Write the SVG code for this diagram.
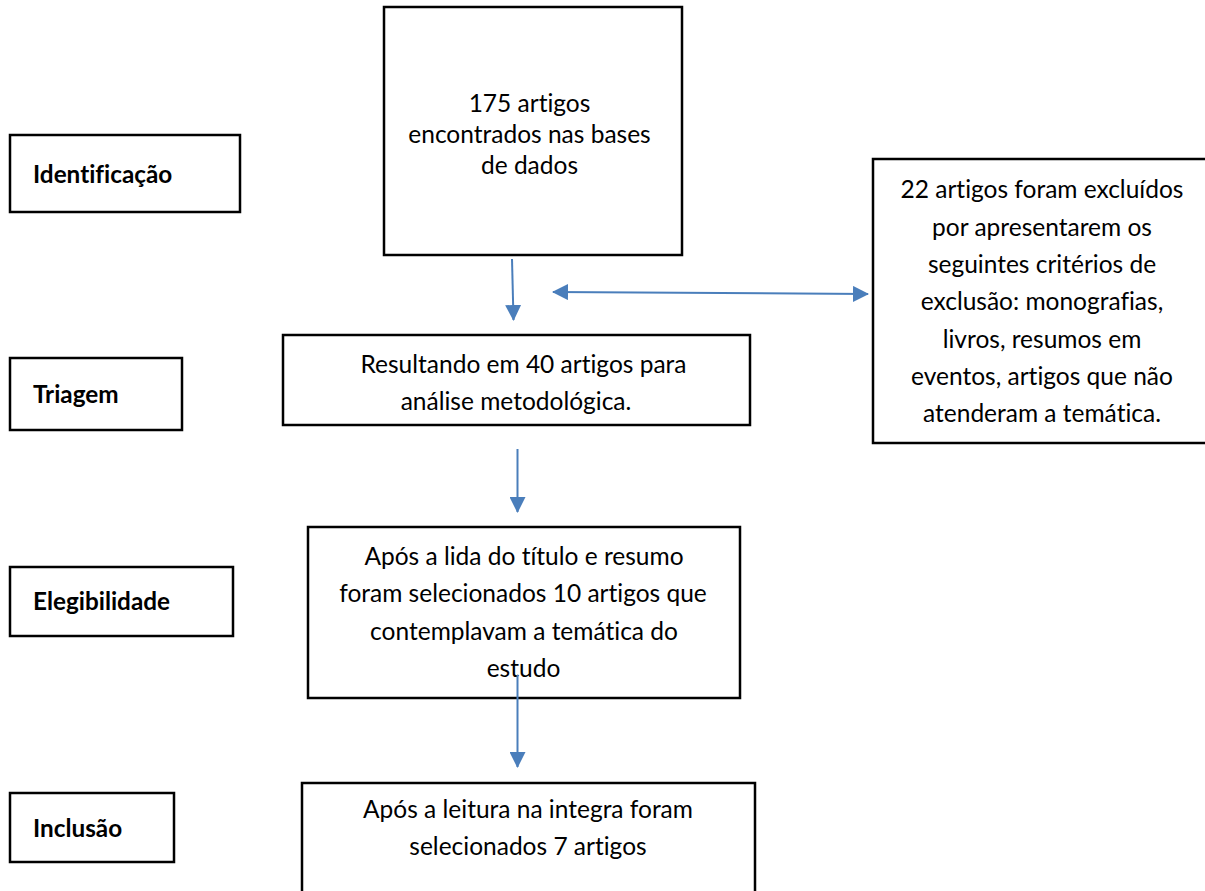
<svg xmlns="http://www.w3.org/2000/svg" width="1205" height="891" viewBox="0 0 1205 891">
<defs>
<style>
.box{fill:#fff;stroke:#000;stroke-width:2.5}
.t{font-family:Lato,"Liberation Sans",sans-serif;font-size:24.5px;fill:#000;text-anchor:middle;font-variant-ligatures:none}
.lbl{font-family:Lato,"Liberation Sans",sans-serif;font-size:24.3px;font-weight:bold;fill:#000;font-variant-ligatures:none}
.con{stroke:#4A7EBB;stroke-width:2;fill:none}
</style>
<marker id="ah" markerUnits="userSpaceOnUse" markerWidth="16" markerHeight="16" viewBox="0 0 16 16" refX="15" refY="8" orient="auto-start-reverse">
<path d="M0,0 L16,8 L0,16 Z" fill="#4A7EBB"/>
</marker>
</defs>
<rect width="1205" height="891" fill="#fff"/>
<g id="lbl-identificacao"><rect class="box" x="10" y="135" width="230" height="77"/><text class="lbl" x="33" y="183">Identificação</text></g>
<g id="lbl-triagem"><rect class="box" x="10" y="358" width="172" height="72"/><text class="lbl" x="33" y="403">Triagem</text></g>
<g id="lbl-elegibilidade"><rect class="box" x="10" y="567" width="223" height="69"/><text class="lbl" x="33" y="610">Elegibilidade</text></g>
<g id="lbl-inclusao"><rect class="box" x="10" y="793" width="164" height="69"/><text class="lbl" x="33" y="837">Inclusão</text></g>
<g id="n-encontrados"><rect class="box" x="384" y="7" width="298" height="248"/>
<text class="t" x="529.5" y="112">175 artigos</text>
<text class="t" x="529.5" y="143">encontrados nas bases</text>
<text class="t" x="529.5" y="174">de dados</text></g>
<g id="n-excluidos"><rect class="box" x="873" y="159" width="340" height="284"/>
<text class="t" x="1042" y="198">22 artigos foram excluídos</text>
<text class="t" x="1042" y="236">por apresentarem os</text>
<text class="t" x="1042" y="273">seguintes critérios de</text>
<text class="t" x="1042" y="310">exclusão: monografias,</text>
<text class="t" x="1042" y="348">livros, resumos em</text>
<text class="t" x="1042" y="385">eventos, artigos que não</text>
<text class="t" x="1042" y="422">atenderam a temática.</text></g>
<g id="n-triagem"><rect class="box" x="283" y="335" width="467" height="90"/>
<text class="t" x="523.5" y="373">Resultando em 40 artigos para</text>
<text class="t" x="516" y="410">análise metodológica.</text></g>
<g id="n-elegibilidade"><rect class="box" x="308" y="527" width="432" height="171"/>
<text class="t" x="524" y="565">Após a lida do título e resumo</text>
<text class="t" x="523" y="602">foram selecionados 10 artigos que</text>
<text class="t" x="524" y="640">contemplavam a temática do</text>
<text class="t" x="523.5" y="677">estudo</text></g>
<g id="n-inclusao"><rect class="box" x="302" y="783" width="453" height="120"/>
<text class="t" x="528" y="818">Após a leitura na integra foram</text>
<text class="t" x="528" y="855">selecionados 7 artigos</text></g>
<g id="connectors">
<line class="con" x1="512" y1="259" x2="513.5" y2="320" marker-end="url(#ah)"/>
<line class="con" x1="553" y1="292" x2="868" y2="294" marker-start="url(#ah)" marker-end="url(#ah)"/>
<line class="con" x1="517.5" y1="449" x2="517.5" y2="512" marker-end="url(#ah)"/>
<line class="con" x1="517.5" y1="675" x2="517.5" y2="767" marker-end="url(#ah)"/>
</g>
</svg>
